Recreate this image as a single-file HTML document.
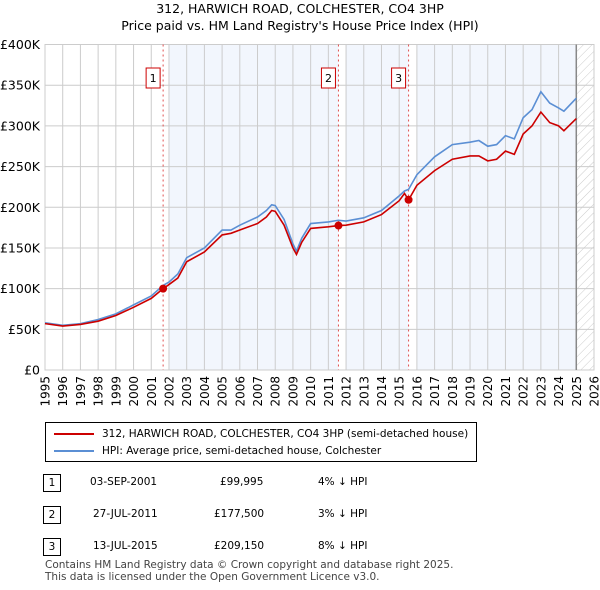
<!DOCTYPE html>
<html><head><meta charset="utf-8">
<style>
body{margin:0;background:#fff;font-family:"DejaVu Sans","Liberation Sans",sans-serif;}
#wrap{position:relative;width:600px;height:590px;overflow:hidden;}
.t{position:absolute;font-size:12px;color:#000;white-space:nowrap;}
</style></head><body>
<div id="wrap">
<svg id="chart" width="600" height="420" style="position:absolute;left:0;top:0">
<defs><pattern id="hatch" width="6" height="6" patternUnits="userSpaceOnUse" patternTransform="rotate(45)"><line x1="0" y1="0" x2="0" y2="6" stroke="#ccc" stroke-width="1"/></pattern></defs>
<text x="300" y="13" text-anchor="middle" font-size="12.5" font-family="DejaVu Sans, sans-serif">312, HARWICH ROAD, COLCHESTER, CO4 3HP</text>
<text x="300" y="30" text-anchor="middle" font-size="12.5" font-family="DejaVu Sans, sans-serif">Price paid vs. HM Land Registry's House Price Index (HPI)</text>
<g id="bands"></g><g id="grid"></g><g id="marks"></g><g id="labels"></g>
</svg>
<div class="t" style="left:45px;top:422px;width:432px;height:40px;border:1px solid #000;box-sizing:border-box;font-size:10.5px;">
 <div style="position:absolute;left:8px;top:5px"><span style="display:inline-block;width:40px;height:2px;background:#cc0000;vertical-align:middle;margin-right:8px"></span>312, HARWICH ROAD, COLCHESTER, CO4 3HP (semi-detached house)</div>
 <div style="position:absolute;left:8px;top:22px"><span style="display:inline-block;width:40px;height:2px;background:#5b8fd4;vertical-align:middle;margin-right:8px"></span>HPI: Average price, semi-detached house, Colchester</div>
</div>
<div>
<div class="t" style="left:43px;top:474px;width:18px;height:18px;border:1px solid #000;box-sizing:border-box;text-align:center;line-height:16px;font-size:10.5px">1</div>
<div class="t" style="left:90px;top:476px;font-size:10.5px">03-SEP-2001</div>
<div class="t" style="left:220px;top:476px;font-size:10.5px">£99,995</div>
<div class="t" style="left:318px;top:476px;font-size:10.5px">4% ↓ HPI</div>
<div class="t" style="left:43px;top:506px;width:18px;height:18px;border:1px solid #000;box-sizing:border-box;text-align:center;line-height:16px;font-size:10.5px">2</div>
<div class="t" style="left:93px;top:508px;font-size:10.5px">27-JUL-2011</div>
<div class="t" style="left:214px;top:508px;font-size:10.5px">£177,500</div>
<div class="t" style="left:318px;top:508px;font-size:10.5px">3% ↓ HPI</div>
<div class="t" style="left:43px;top:538px;width:18px;height:18px;border:1px solid #000;box-sizing:border-box;text-align:center;line-height:16px;font-size:10.5px">3</div>
<div class="t" style="left:93px;top:540px;font-size:10.5px">13-JUL-2015</div>
<div class="t" style="left:214px;top:540px;font-size:10.5px">£209,150</div>
<div class="t" style="left:318px;top:540px;font-size:10.5px">8% ↓ HPI</div>
</div>
<div class="t" style="left:45px;top:559px;font-size:10.5px;color:#444;line-height:12px">Contains HM Land Registry data © Crown copyright and database right 2025.<br>This data is licensed under the Open Government Licence v3.0.</div>
</div>
<script>
const years=[1995,1996,1997,1998,1999,2000,2001,2001.67,2002,2002.5,2003,2004,2005,2005.5,2006,2007,2007.5,2007.8,2008,2008.5,2009,2009.2,2009.5,2010,2011,2011.57,2012,2013,2014,2015,2015.3,2015.53,2016,2017,2018,2019,2019.5,2020,2020.5,2021,2021.5,2022,2022.5,2023,2023.5,2024,2024.3,2025];
const hpiValues=[58,55,57,62,69,80,91,104,108,118,138,150,172,172,178,188,196,203,202,185,155,146,162,180,182,184,183,187,196,214,220,222,240,262,277,280,282,275,277,288,284,310,320,342,328,322,318,334];
const priceValues=[57,54,56,60,67,77,88,100,105,113,133,145,166,168,172,180,188,196,195,178,150,142,157,174,176,177.5,178,182,191,208,217,209,227,245,259,263,263,257,259,269,265,290,300,317,304,300,294,309];
const saleYears=[2001.67,2011.57,2015.53];
const salePrices=[99.995,177.5,209.15];
const saleLabels=["1","2","3"];
const yTicks=[0,50,100,150,200,250,300,350,400];
const yTickLabels=["£0","£50K","£100K","£150K","£200K","£250K","£300K","£350K","£400K"];
const xTicks=[1995,1996,1997,1998,1999,2000,2001,2002,2003,2004,2005,2006,2007,2008,2009,2010,2011,2012,2013,2014,2015,2016,2017,2018,2019,2020,2021,2022,2023,2024,2025,2026];
const shadedBands=[[2002,2011.57],[2012,2015.53],[2016,2025]];
const NS="http://www.w3.org/2000/svg";
const X0=45,X1=594,Y0=370,Y1=44.5;
const xs=y=>X0+(y-1995)/(2026-1995)*(X1-X0);
const ys=v=>Y0-v/400*(Y0-Y1);
function mk(tag,attrs,parent){const e=document.createElementNS(NS,tag);for(const k in attrs)e.setAttribute(k,attrs[k]);parent.appendChild(e);return e;}
const bands=document.getElementById('bands'),grid=document.getElementById('grid'),marks=document.getElementById('marks'),labels=document.getElementById('labels');
shadedBands.forEach(b=>{const r=mk('rect',{x:xs(b[0]),y:Y1,width:xs(b[1])-xs(b[0]),height:Y0-Y1,fill:'#eef3fc',opacity:0.75},bands);

});
const h=mk('rect',{x:xs(2025),y:Y1,width:X1-xs(2025),height:Y0-Y1,fill:'url(#hatch)'},bands);


yTicks.forEach((v,i)=>{mk('line',{x1:X0,x2:X1,y1:ys(v),y2:ys(v),stroke:'#ccc','stroke-width':1},grid);
const t=mk('text',{x:40,y:ys(v)+4.5,'text-anchor':'end','font-size':12.5,'font-family':'DejaVu Sans, sans-serif'},labels);t.textContent=yTickLabels[i];

});
xTicks.forEach(y=>{mk('line',{x1:xs(y),x2:xs(y),y1:Y1,y2:Y0,stroke:'#ccc','stroke-width':1},grid);
const t=mk('text',{x:0,y:0,'text-anchor':'end','font-size':12,'font-family':'DejaVu Sans, sans-serif',transform:'translate('+(xs(y)+4.5)+',376) rotate(-90)'},labels);t.textContent=String(y);

});
mk('rect',{x:X0,y:Y1,width:X1-X0,height:Y0-Y1,fill:'none',stroke:'#ccc'},grid);
const nl=mk('line',{x1:xs(2025),x2:xs(2025),y1:Y1,y2:Y0,stroke:'#888','stroke-width':1.5},grid);


saleYears.forEach((y,i)=>{const l=mk('line',{x1:xs(y),x2:xs(y),y1:Y1,y2:Y0,stroke:'#e05050','stroke-dasharray':'2,3','stroke-width':1},marks);


const g=mk('g',{},marks);


mk('rect',{x:xs(y)-17,y:68,width:14,height:20,fill:'#fff',stroke:'#cc0000'},g);
const t=mk('text',{x:xs(y)-10,y:82,'text-anchor':'middle','font-size':11,'font-family':'DejaVu Sans, sans-serif'},g);t.textContent=saleLabels[i];});
function line(vals,color,name){const p=mk('polyline',{points:years.map((y,i)=>xs(y)+','+ys(vals[i])).join(' '),fill:'none',stroke:color,'stroke-width':1.6},marks);

}
line(hpiValues,'#5b8fd4','hpi-line');
line(priceValues,'#cc0000','price-line');
saleYears.forEach((y,i)=>{const c=mk('circle',{cx:xs(y),cy:ys(salePrices[i]),r:4,fill:'#cc0000'},marks);

});
</script>
</body></html>
